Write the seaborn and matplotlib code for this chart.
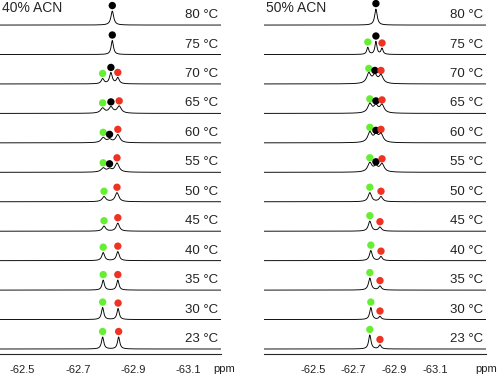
import numpy as np
import pandas as pd
import matplotlib
matplotlib.use('Agg')
import matplotlib.pyplot as plt
import seaborn as sns

sns.set_style('white')
plt.rcParams['font.family'] = ['Liberation Sans', 'DejaVu Sans']

nan = np.nan
temps = ['80', '75', '70', '65', '60', '55', '50', '45', '40', '35', '30', '23']

# 40% ACN - peak positions (ppm), heights, widths (FWHM, ppm)
left_green_ppm = [nan, nan, -62.79, -62.79, -62.792, -62.792, -62.795, -62.795, -62.792, -62.792, -62.79, -62.79]
left_green_h = [0, 0, 5, 5, 5, 4, 5, 5, 8, 10, 12, 12]
left_black_ppm = [-62.825, -62.825, -62.82, -62.82, -62.815, -62.815, nan, nan, nan, nan, nan, nan]
left_black_h = [14, 14, 11, 6, 3, 3, 0, 0, 0, 0, 0, 0]
left_red_ppm = [nan, nan, -62.845, -62.85, -62.845, -62.842, -62.842, -62.845, -62.845, -62.845, -62.846, -62.848]
left_red_h = [0, 0, 6, 7, 8, 9, 9, 8, 9, 10, 11, 12]
left_width = [0.012, 0.010, 0.012, 0.018, 0.018, 0.018, 0.016, 0.014, 0.012, 0.010, 0.010, 0.010]

# 50% ACN
right_green_ppm = [nan, -62.77, -62.775, -62.78, -62.78, -62.78, -62.78, -62.78, -62.785, -62.78, -62.785, -62.78]
right_green_h = [0, 7, 10, 9, 10, 9, 9, 10, 10, 12, 12, 14]
right_black_ppm = [-62.81, -62.81, -62.805, -62.81, -62.81, -62.81, nan, nan, nan, nan, nan, nan]
right_black_h = [16, 13, 8, 7, 7, 5, 0, 0, 0, 0, 0, 0]
right_red_ppm = [nan, -62.84, -62.835, -62.84, -62.835, -62.84, -62.835, -62.83, -62.835, -62.83, -62.83, -62.83]
right_red_h = [0, 6, 8, 8, 8, 8, 5, 4, 4, 4, 3, 4]
right_width = [0.015, 0.012, 0.025, 0.025, 0.025, 0.025, 0.02, 0.018, 0.016, 0.016, 0.014, 0.014]

major_ticks = [-62.5, -62.7, -62.9, -63.1]
minor_ticks = [-62.5, -62.6, -62.7, -62.8, -62.9, -63.0, -63.1, -63.2, -63.3]

colors = {'green': '#66ee33', 'black': '#000000', 'red': '#ee3322'}

fig = plt.figure(figsize=(5, 3.76), dpi=100)
W, H = 500, 376
spine_y = 354
row_gap = 29.45
base0 = 5


def lorentz(x, x0, h, w):
    if np.isnan(x0) or h == 0:
        return np.zeros_like(x)
    g = w / 2
    return h * g**2 / ((x - x0)**2 + g**2)


def panel(x0px, x1px, xlim, title, gp, gh, bp, bh, rp, rh, wid, label_ppm, ppm_pos, ticks):
    ax = fig.add_axes([x0px / W, 1 - spine_y / H, (x1px - x0px) / W, spine_y / H])
    grid = np.linspace(xlim[0], xlim[1], 700)
    rows = []
    dots = []
    n = len(temps)
    for i, t in enumerate(temps):
        off = base0 + (n - 1 - i) * row_gap
        y = (lorentz(grid, gp[i], gh[i], wid[i]) + lorentz(grid, bp[i], bh[i], wid[i])
             + lorentz(grid, rp[i], rh[i], wid[i]))
        rows.append(pd.DataFrame({'ppm': grid, 'y': y + off, 'T': t}))
        for name, p, h in (('green', gp[i], gh[i]), ('black', bp[i], bh[i]), ('red', rp[i], rh[i])):
            if not np.isnan(p):
                dots.append({'ppm': p, 'y': off + h + 5.5, 'kind': name})
        ax.text(label_ppm, off + 10, f'{t} °C', ha='center', va='center', fontsize=9.5, color='#222222')
    df = pd.concat(rows)
    sns.lineplot(data=df, x='ppm', y='y', units='T', estimator=None, sort=False,
                 color='black', lw=0.65, ax=ax)
    dd = pd.DataFrame(dots)
    sns.scatterplot(data=dd, x='ppm', y='y', hue='kind', palette=colors, s=28,
                    edgecolor='none', legend=False, ax=ax)
    ax.set_xlim(*xlim)
    ax.set_ylim(0, spine_y)
    for s in ['top', 'left', 'right']:
        ax.spines[s].set_visible(False)
    ax.spines['bottom'].set_linewidth(0.8)
    ax.set_yticks([])
    ax.set_xticks(ticks, minor=True)
    ax.set_xticks(major_ticks)
    ax.set_xticklabels([f'{v:.1f}' for v in major_ticks], fontsize=8, color='#222222')
    ax.tick_params(axis='x', which='both', direction='out', length=3, width=0.7, pad=5)
    ax.set_xlabel('')
    ax.set_ylabel('')
    ax.text(ppm_pos, -15, 'ppm', ha='center', va='center', fontsize=8, color='#222222', clip_on=False)
    ax.text(0.01, 1 - 8 / spine_y, title, transform=ax.transAxes, ha='left', va='center', fontsize=10)
    return ax


panel(0, 221, (-62.418, -63.219), '40% ACN', left_green_ppm, left_green_h, left_black_ppm, left_black_h,
      left_red_ppm, left_red_h, left_width, -63.15, -63.23, minor_ticks[:8])
panel(264, 486, (-62.259, -63.352), '50% ACN', right_green_ppm, right_green_h, right_black_ppm, right_black_h,
      right_red_ppm, right_red_h, right_width, -63.254, -63.355, minor_ticks)

fig.savefig('out.png', dpi=100)
